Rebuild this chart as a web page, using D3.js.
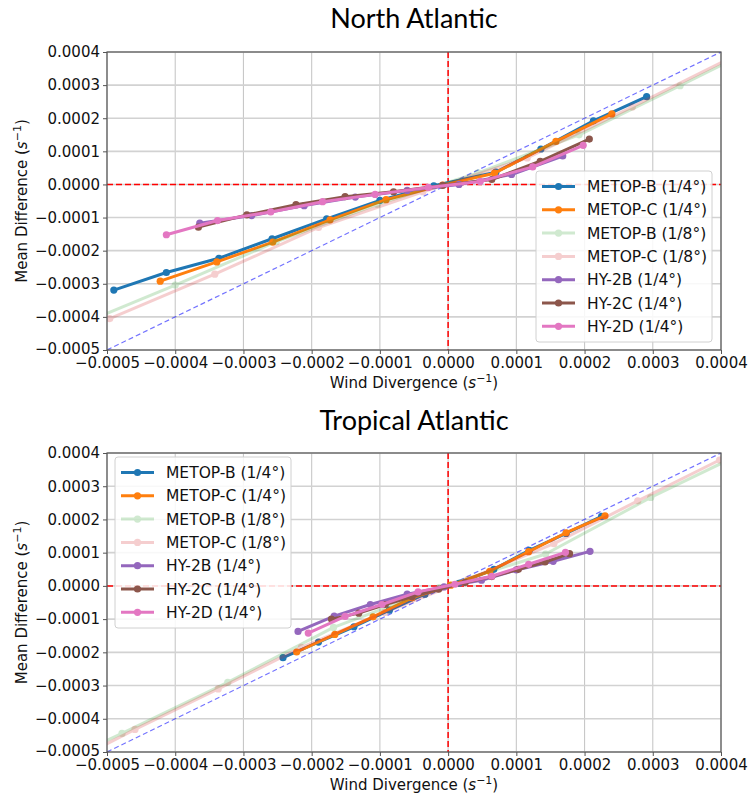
<!DOCTYPE html>
<html>
<head>
<meta charset="utf-8">
<script src="https://cdn.jsdelivr.net/npm/d3@7"></script>
<style>
  html, body { margin: 0; padding: 0; background: #fff; }
  svg { display: block; }
</style>
</head>
<body>
<svg id="chart" width="749" height="799"></svg>
<script>
// ---- Series names, colours and opacities (legend order) ----
const seriesNames = ["METOP-B (1/4°)", "METOP-C (1/4°)", "METOP-B (1/8°)", "METOP-C (1/8°)",
                     "HY-2B (1/4°)", "HY-2C (1/4°)", "HY-2D (1/4°)"];
const seriesColors = ["#1f77b4", "#ff7f0e", "#2ca02c", "#d62728", "#9467bd", "#8c564b", "#e377c2"];
const seriesAlpha = [1, 1, 0.22, 0.22, 1, 1, 1];

// ---- Tick values shared by both panels ----
const xTicks = [-0.0005, -0.0004, -0.0003, -0.0002, -0.0001, 0, 0.0001, 0.0002, 0.0003, 0.0004];
const yTicks = [-0.0005, -0.0004, -0.0003, -0.0002, -0.0001, 0, 0.0001, 0.0002, 0.0003, 0.0004];

// ---- North Atlantic: binned wind divergence (x) vs mean difference (y) ----
const naMetopB14X = [-0.00049, -0.000413, -0.000336, -0.000258, -0.000178, -0.0001, -0.000021, 0.00007, 0.000136, 0.000213, 0.000291];
const naMetopB14Y = [-0.000319, -0.000266, -0.000223, -0.000164, -0.000104, -0.000048, -0.000004, 0.000037, 0.000107, 0.000192, 0.000265];
const naMetopC14X = [-0.000422, -0.000339, -0.000257, -0.000173, -0.000091, -0.000008, 0.000068, 0.000158, 0.00024];
const naMetopC14Y = [-0.000292, -0.000234, -0.000174, -0.000107, -0.000046, -0.000002, 0.000034, 0.00013, 0.000213];
const naMetopB18X = [-0.000548, -0.0004, -0.000252, -0.000104, 0.000044, 0.000192, 0.00034, 0.000488];
const naMetopB18Y = [-0.00043, -0.000304, -0.000173, -0.00006, 0.000035, 0.00015, 0.000298, 0.00045];
const naMetopC18X = [-0.000496, -0.000342, -0.00019, -0.000037, 0.000116, 0.00027, 0.000422];
const naMetopC18Y = [-0.000405, -0.000271, -0.00013, -0.000022, 0.00008, 0.000234, 0.00039];
const naHY2BX = [-0.000364, -0.000288, -0.000211, -0.000136, -0.00006, 0.000016, 0.000093, 0.000168];
const naHY2BY = [-0.000117, -0.000094, -0.000064, -0.000038, -0.000018, 0.0, 0.00003, 0.000086];
const naHY2CX = [-0.000366, -0.000295, -0.000223, -0.000151, -0.00008, -0.000008, 0.000064, 0.000135, 0.000207];
const naHY2CY = [-0.000129, -0.000092, -0.000061, -0.000037, -0.000022, -0.000003, 0.000015, 0.00007, 0.000137];
const naHY2DX = [-0.000413, -0.000338, -0.00026, -0.000184, -0.000107, -0.000029, 0.000047, 0.000124, 0.000198];
const naHY2DY = [-0.000152, -0.000109, -0.000083, -0.000052, -0.00003, -0.000009, 0.000009, 0.000053, 0.000118];

// ---- Tropical Atlantic ----
const taMetopB14X = [-0.000242, -0.00019, -0.000138, -0.000086, -0.000034, 0.000016, 0.000067, 0.000119, 0.000173, 0.000225];
const taMetopB14Y = [-0.000216, -0.000169, -0.000123, -0.000073, -0.000025, 0.000008, 0.00005, 0.000107, 0.000158, 0.000209];
const taMetopC14X = [-0.000222, -0.000166, -0.00011, -0.000053, 0.000004, 0.000061, 0.000118, 0.000173, 0.00023];
const taMetopC14Y = [-0.000199, -0.000146, -0.000093, -0.000036, 0.000002, 0.000044, 0.000103, 0.00016, 0.000211];
const taMetopB18X = [-0.000633, -0.000478, -0.000323, -0.000168, -0.000013, 0.000143, 0.000297, 0.000452];
const taMetopB18Y = [-0.00059, -0.000444, -0.00029, -0.000125, -0.000005, 0.000096, 0.000266, 0.00042];
const taMetopC18X = [-0.000581, -0.000459, -0.000337, -0.000215, -0.000093, 0.000029, 0.000155, 0.000278, 0.000398];
const taMetopC18Y = [-0.00056, -0.000432, -0.00031, -0.000185, -0.00008, 0.00002, 0.000127, 0.000256, 0.000379];
const taHY2BX = [-0.00022, -0.000167, -0.000114, -0.00006, -0.000006, 0.000049, 0.0001, 0.000154, 0.000208];
const taHY2BY = [-0.000137, -0.000091, -0.000056, -0.000025, -0.000003, 0.000017, 0.000048, 0.000074, 0.000104];
const taHY2CX = [-0.000171, -0.000131, -0.000092, -0.000053, -0.000014, 0.000025, 0.000064, 0.000103, 0.000142, 0.000178];
const taHY2CY = [-0.0001, -0.000082, -0.000056, -0.000033, -0.00001, 0.00001, 0.000028, 0.00005, 0.000072, 0.000097];
const taHY2DX = [-0.000205, -0.000151, -0.000097, -0.000044, 0.00001, 0.000064, 0.000118, 0.000172];
const taHY2DY = [-0.000142, -0.000092, -0.000056, -0.000018, 0.000005, 0.000029, 0.000065, 0.000101];

const naSeries = [[naMetopB14X, naMetopB14Y], [naMetopC14X, naMetopC14Y], [naMetopB18X, naMetopB18Y],
                  [naMetopC18X, naMetopC18Y], [naHY2BX, naHY2BY], [naHY2CX, naHY2CY], [naHY2DX, naHY2DY]];
const taSeries = [[taMetopB14X, taMetopB14Y], [taMetopC14X, taMetopC14Y], [taMetopB18X, taMetopB18Y],
                  [taMetopC18X, taMetopC18Y], [taHY2BX, taHY2BY], [taHY2CX, taHY2CY], [taHY2DX, taHY2DY]];

const svg = d3.select("#chart");
const tickFont = "DejaVu Sans, sans-serif";
const fmt = v => d3.format(".4f")(v).replace("-", "\u2212");

function drawPanel(opts) {
  const { id, title, titleY, top, bottom, series, legendX, legendY } = opts;
  const left = 107, right = 721;
  const x = d3.scaleLinear().domain([-0.0005, 0.0004]).range([left, right]);
  const y = d3.scaleLinear().domain([-0.0005, 0.0004]).range([bottom, top]);
  const g = svg.append("g");

  g.append("clipPath").attr("id", "clip-" + id)
    .append("rect").attr("x", left).attr("y", top).attr("width", right - left).attr("height", bottom - top);

  // grid
  g.append("g").selectAll("line").data(xTicks).join("line")
    .attr("x1", d => x(d)).attr("x2", d => x(d)).attr("y1", top).attr("y2", bottom)
    .attr("stroke", "#c8c8c8").attr("stroke-width", 1.1);
  g.append("g").selectAll("line").data(yTicks).join("line")
    .attr("y1", d => y(d)).attr("y2", d => y(d)).attr("x1", left).attr("x2", right)
    .attr("stroke", "#d2d2d2").attr("stroke-width", 1.6);

  const plot = g.append("g").attr("clip-path", `url(#clip-${id})`);

  // zero reference lines
  plot.append("line").attr("x1", x(0)).attr("x2", x(0)).attr("y1", top).attr("y2", bottom)
    .attr("stroke", "#ff0000").attr("stroke-width", 1.5).attr("stroke-dasharray", "6,3");
  plot.append("line").attr("x1", left).attr("x2", right).attr("y1", y(0)).attr("y2", y(0))
    .attr("stroke", "#ff0000").attr("stroke-width", 1.5).attr("stroke-dasharray", "6,3");
  // 1:1 line
  plot.append("line").attr("x1", x(-0.0005)).attr("y1", y(-0.0005)).attr("x2", x(0.0004)).attr("y2", y(0.0004))
    .attr("stroke", "#0000ff").attr("stroke-opacity", 0.55).attr("stroke-width", 1.2).attr("stroke-dasharray", "5,3");

  const line = d3.line().x(d => x(d[0])).y(d => y(d[1]));
  series.forEach((s, i) => {
    const pts = s[0].map((v, k) => [v, s[1][k]]);
    const sg = plot.append("g").attr("opacity", seriesAlpha[i]);
    sg.append("path").datum(pts).attr("d", line).attr("fill", "none")
      .attr("stroke", seriesColors[i]).attr("stroke-width", 3).attr("stroke-linejoin", "round");
    sg.selectAll("circle").data(pts).join("circle")
      .attr("cx", d => x(d[0])).attr("cy", d => y(d[1])).attr("r", 3.6).attr("fill", seriesColors[i]);
  });

  // frame
  g.append("rect").attr("x", left).attr("y", top).attr("width", right - left).attr("height", bottom - top)
    .attr("fill", "none").attr("stroke", "#555").attr("stroke-width", 1.2);

  // axes
  const xAxis = d3.axisBottom(x).tickValues(xTicks).tickFormat(fmt).tickSize(4).tickPadding(3);
  const yAxis = d3.axisLeft(y).tickValues(yTicks).tickFormat(fmt).tickSize(4).tickPadding(3);
  const gx = g.append("g").attr("transform", `translate(0,${bottom})`).call(xAxis);
  const gy = g.append("g").attr("transform", `translate(${left},0)`).call(yAxis);
  [gx, gy].forEach(a => {
    a.select(".domain").remove();
    a.selectAll(".tick line").attr("stroke", "#555");
    a.selectAll(".tick text").attr("font-family", tickFont).attr("font-size", 15).attr("fill", "#111");
  });
  // the lowest y label sits just above the first x label
  gy.selectAll(".tick text").filter(d => d === -0.0005).attr("dy", "0.2em");

  // axis labels
  const xl = g.append("text").attr("x", (left + right) / 2).attr("y", bottom + 38)
    .attr("text-anchor", "middle").attr("font-family", tickFont).attr("font-size", 15).attr("fill", "#111");
  xl.append("tspan").text("Wind Divergence (");
  xl.append("tspan").attr("font-style", "italic").text("s");
  xl.append("tspan").attr("dy", -6).attr("font-size", 11).text("\u22121");
  xl.append("tspan").attr("dy", 6).text(")");

  const yl = g.append("text").attr("transform", `translate(27,${(top + bottom) / 2}) rotate(-90)`)
    .attr("text-anchor", "middle").attr("font-family", tickFont).attr("font-size", 15).attr("fill", "#111");
  yl.append("tspan").text("Mean Difference (");
  yl.append("tspan").attr("font-style", "italic").text("s");
  yl.append("tspan").attr("dy", -6).attr("font-size", 11).text("\u22121");
  yl.append("tspan").attr("dy", 6).text(")");

  // title
  g.append("text").attr("x", (left + right) / 2).attr("y", titleY).attr("text-anchor", "middle")
    .attr("font-family", "Lato, sans-serif").attr("font-size", 27).attr("fill", "#000").text(title);

  // legend
  const lg = g.append("g").attr("transform", `translate(${legendX},${legendY})`);
  lg.append("rect").attr("width", 176).attr("height", 171).attr("rx", 3)
    .attr("fill", "#fff").attr("fill-opacity", 0.85).attr("stroke", "#d0d0d0");
  seriesNames.forEach((name, i) => {
    const ey = 15.5 + i * 23.3;
    const eg = lg.append("g");
    const mg = eg.append("g").attr("opacity", seriesAlpha[i]);
    mg.append("line").attr("x1", 6).attr("x2", 39).attr("y1", ey).attr("y2", ey)
      .attr("stroke", seriesColors[i]).attr("stroke-width", 3);
    mg.append("circle").attr("cx", 22.5).attr("cy", ey).attr("r", 3.6).attr("fill", seriesColors[i]);
    eg.append("text").attr("x", 51).attr("y", ey).attr("dy", "0.36em")
      .attr("font-family", tickFont).attr("font-size", 15.5).attr("fill", "#111").text(name);
  });
}

drawPanel({ id: "na", title: "North Atlantic", titleY: 28, top: 52, bottom: 350,
            series: naSeries, legendX: 536, legendY: 171 });
drawPanel({ id: "ta", title: "Tropical Atlantic", titleY: 430, top: 453, bottom: 752,
            series: taSeries, legendX: 115, legendY: 457 });
</script>
</body>
</html>
